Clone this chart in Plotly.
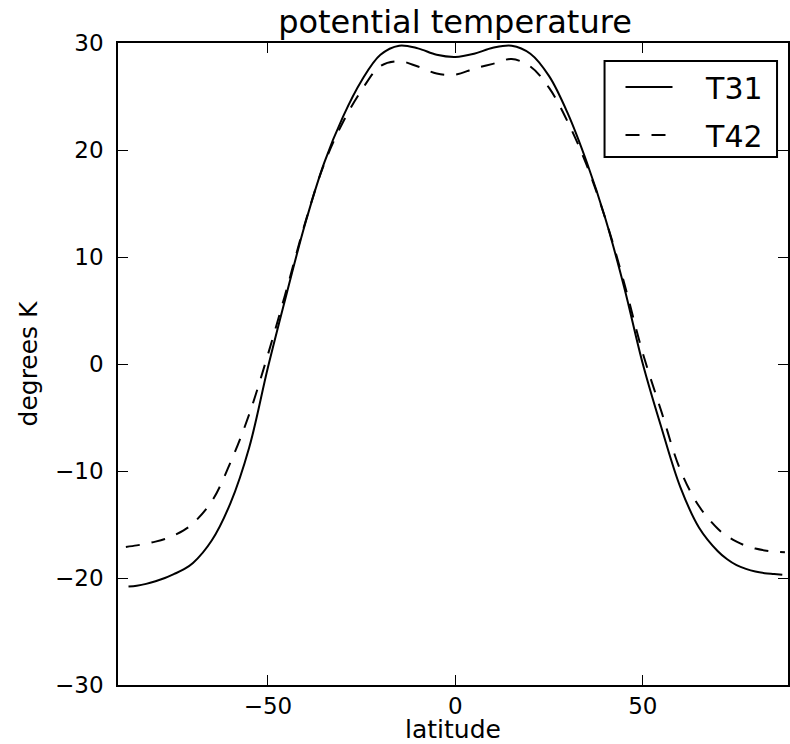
import plotly.graph_objects as go

lat_t31 = [-87.2, -85, -82.5, -80, -77.5, -75, -72.5, -70, -65, -60, -55, -50, -45, -40, -35, -30, -25,
           -20, -15, -10, -5, 0, 5, 10, 15, 20, 25, 30, 35, 40, 45, 50, 55, 60, 65, 70, 72.5, 75, 77.5,
           80, 82.5, 85, 87.2]
t31 = [-20.8, -20.72, -20.55, -20.3, -20.0, -19.62, -19.2, -18.6, -16.5, -13.0, -7.8, -0.3, 6.6, 13.2,
       18.8, 23.1, 26.5, 28.9, 29.75, 29.5, 28.9, 28.7, 29.0, 29.55, 29.75, 29.0, 26.9, 23.4, 18.9,
       13.6, 7.2, 0.0, -6.0, -11.5, -15.3, -17.5, -18.25, -18.8, -19.15, -19.4, -19.55, -19.63, -19.7]

lat_t42 = [-87.9, -85, -82.5, -80, -77.5, -75, -72.5, -70, -65, -60, -55, -50, -45, -40, -35, -30, -25,
           -20, -15, -10, -5, 0, 5, 10, 15, 20, 25, 30, 35, 40, 45, 50, 55, 60, 65, 70, 72.5, 75, 77.5,
           80, 82.5, 85, 87.9]
t42 = [-17.1, -16.95, -16.8, -16.6, -16.35, -16.0, -15.55, -14.9, -12.85, -9.2, -4.7, 0.9, 7.0, 13.3,
       18.7, 22.6, 25.6, 27.85, 28.3, 27.8, 27.15, 27.05, 27.6, 28.05, 28.5, 27.8, 25.8, 22.6, 18.6,
       13.6, 7.6, 1.0, -4.5, -9.9, -13.3, -15.4, -16.1, -16.6, -17.0, -17.25, -17.42, -17.53, -17.6]

x_ticks = [-50, 0, 50]
y_ticks = [-30, -20, -10, 0, 10, 20, 30]

FONT = "DejaVu Sans"
NB = "\u00a0"

fig = go.Figure()
fig.add_trace(go.Scatter(x=lat_t31, y=t31, mode="lines", name=NB * 3 + "T31", legendgroup="a",
                         line=dict(color="black", width=2, shape="spline", smoothing=1.0)))
fig.add_trace(go.Scatter(x=lat_t42, y=t42, mode="lines", name=NB * 3 + "T42", legendgroup="b",
                         line=dict(color="black", width=2, dash="14px,12px", shape="spline", smoothing=1.0)))

axis_common = dict(showgrid=False, zeroline=False, showline=True, linecolor="black", linewidth=1.6,
                   ticks="inside", ticklen=10, tickwidth=1, tickcolor="black", mirror="ticks",
                   tickfont=dict(family=FONT, size=23, color="black"))

fig.update_xaxes(range=[-90, 88.72], tickvals=x_ticks, ticklabelstandoff=0,
                 title=dict(text="latitude", font=dict(family=FONT, size=25, color="black"), standoff=2),
                 **axis_common)
fig.update_yaxes(range=[-30, 30], tickvals=y_ticks, ticklabelstandoff=8,
                 title=dict(text="degrees K", font=dict(family=FONT, size=25, color="black"), standoff=10),
                 **axis_common)

# legend frame (matplotlib-style box)
fig.add_shape(type="rect", xref="paper", yref="paper",
              x0=(606 - 118) / 672, x1=(779 - 118) / 672, y0=(685 - 157) / 642, y1=(685 - 61) / 642,
              line=dict(color="black", width=2), fillcolor="white", layer="above")

fig.update_layout(
    width=790, height=744,
    margin=dict(l=118, r=0, t=43, b=59),
    paper_bgcolor="white", plot_bgcolor="white",
    title=dict(text="potential temperature", font=dict(family=FONT, size=32, color="black"),
               x=0.503, xref="paper", xanchor="center", y=1 - 22 / 744, yref="container", yanchor="middle"),
    legend=dict(x=(622 - 118) / 672, y=0.972, xanchor="left", yanchor="top",
                borderwidth=0, bgcolor="rgba(0,0,0,0)", itemwidth=47,
                tracegroupgap=6,
                font=dict(family=FONT, size=30, color="black")),
    showlegend=True,
)

fig.write_html("out.html")
